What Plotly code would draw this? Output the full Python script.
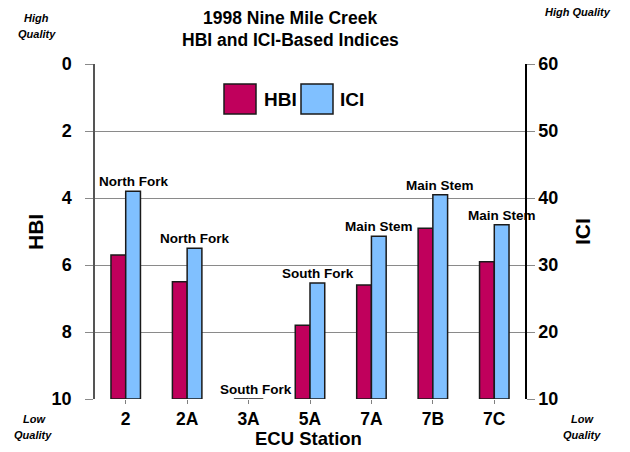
import plotly.graph_objects as go

stations = ["2", "2A", "3A", "5A", "7A", "7B", "7C"]
hbi = [5.7, 6.5, 10.0, 7.8, 6.6, 4.9, 5.9]
ici = [41.0, 32.5, 10.0, 27.3, 34.3, 40.5, 36.0]
reach = ["North Fork", "North Fork", "South Fork", "South Fork", "Main Stem", "Main Stem", "Main Stem"]
hbi_ticks = [0, 2, 4, 6, 8, 10]
ici_ticks = [10, 20, 30, 40, 50, 60]

HBI_COLOR = "#C0005C"
ICI_COLOR = "#80C0FF"
FONT = "Liberation Sans, Arial, sans-serif"

W, H = 630, 452
L, R, T, B = 95, 105, 64, 53
PW, PH = W - L - R, H - T - B


def px(xp):
    return (xp - L) / PW


def py(yp):
    return (H - B - yp) / PH


fig = go.Figure()
fig.add_trace(go.Bar(
    x=stations, y=[h - 10 for h in hbi], base=10, name="HBI",
    marker=dict(color=HBI_COLOR, line=dict(color="#1a1a1a", width=1.5)),
    width=0.24, offset=-0.24, yaxis="y", showlegend=False,
))
fig.add_trace(go.Bar(
    x=stations, y=[v - 10 for v in ici], base=10, name="ICI",
    marker=dict(color=ICI_COLOR, line=dict(color="#1a1a1a", width=1.5)),
    width=0.24, offset=0.0, yaxis="y2", showlegend=False,
))

ann = []
for i, (v, r) in enumerate(zip(ici, reach)):
    ann.append(dict(x=i, y=v, xref="x", yref="y2", text=r, showarrow=False,
                    xshift=7.5, yanchor="bottom", yshift=0,
                    font=dict(family=FONT, size=13.5, color="black", weight="bold")))


def txt(x, y, t, size, italic=False, angle=0, xanchor="center"):
    ann.append(dict(x=px(x), y=py(y), xref="paper", yref="paper", text=t,
                    showarrow=False, xanchor=xanchor, yanchor="middle", textangle=angle,
                    font=dict(family=FONT, size=size, color="black", weight="bold",
                              style="italic" if italic else "normal")))


txt(290, 18, "1998 Nine Mile Creek", 17.5)
txt(290, 40, "HBI and ICI-Based Indices", 17.5)
txt(37, 18, "High", 11, True)
txt(37, 34, "Quality", 11, True)
txt(578, 12, "High Quality", 11, True)
txt(34, 419, "Low", 11, True)
txt(33, 435, "Quality", 11, True)
txt(582, 419, "Low", 11, True)
txt(582, 435, "Quality", 11, True)
txt(35, 232, "HBI", 21, angle=-90)
txt(582, 232, "ICI", 21, angle=-90)
txt(308, 439, "ECU Station", 18.5)
txt(262, 99, "HBI", 19, xanchor="left")
txt(338, 99, "ICI", 19, xanchor="left")

shapes = [
    dict(type="rect", xref="paper", yref="paper", x0=px(224), x1=px(256), y0=py(114), y1=py(84),
         fillcolor=HBI_COLOR, line=dict(color="#1a1a1a", width=1.5)),
    dict(type="rect", xref="paper", yref="paper", x0=px(301), x1=px(333), y0=py(114), y1=py(84),
         fillcolor=ICI_COLOR, line=dict(color="#1a1a1a", width=1.5)),
]

fig.update_layout(
    width=W, height=H,
    margin=dict(l=L, r=R, t=T, b=B, pad=0),
    paper_bgcolor="white", plot_bgcolor="white",
    font=dict(family=FONT, color="black"),
    showlegend=False,
    annotations=ann, shapes=shapes,
    xaxis=dict(
        type="category", range=[-0.5, 6.5], showgrid=False, showline=False, zeroline=False,
        ticks="outside", ticklen=4, tickcolor="#808080", ticklabelstandoff=0,
        tickfont=dict(family=FONT, size=17.5, color="black", weight="bold"),
    ),
    yaxis=dict(
        range=[10, 0], tickvals=hbi_ticks, showgrid=True, gridcolor="#8a8a8a", gridwidth=1,
        zeroline=False, showline=True, linecolor="#555555", linewidth=1.5,
        ticks="outside", ticklen=8, tickcolor="#8a8a8a", ticklabelstandoff=10,
        tickfont=dict(family=FONT, size=18, color="black", weight="bold"),
    ),
    yaxis2=dict(
        range=[10, 60], tickvals=ici_ticks, overlaying="y", side="right", showgrid=False,
        zeroline=False, showline=True, linecolor="black", linewidth=1.5,
        ticks="outside", ticklen=8, tickcolor="#8a8a8a",
        tickfont=dict(family=FONT, size=18, color="black", weight="bold"),
    ),
    bargap=0.5,
)

fig.write_html("out.html", config={"displayModeBar": False},
               post_script="document.body.style.margin='0';")
